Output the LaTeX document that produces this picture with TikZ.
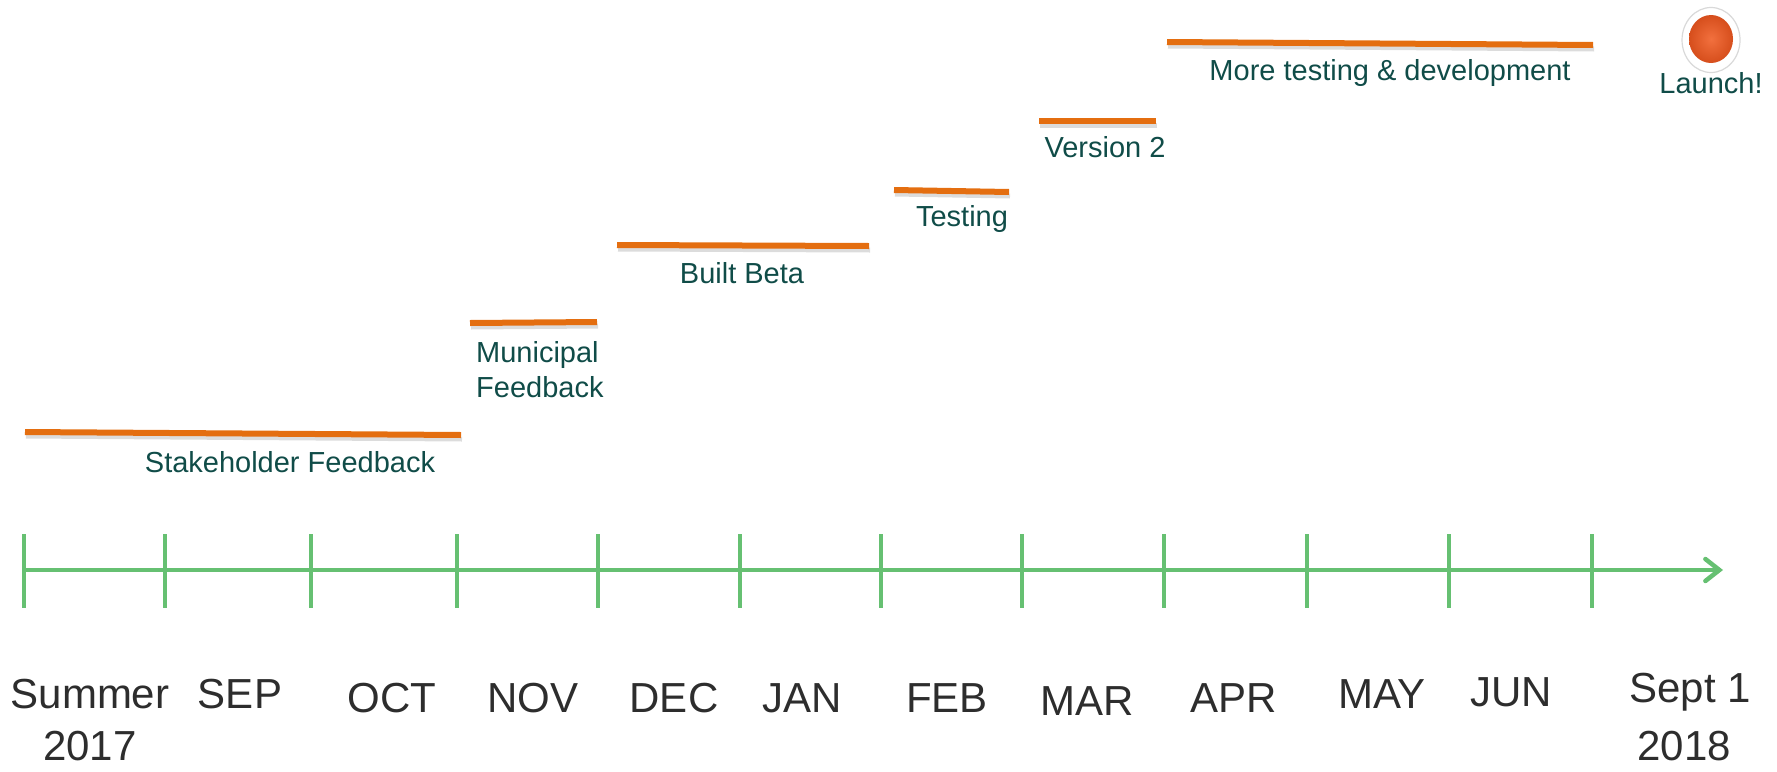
\documentclass[tikz,border=0pt]{standalone}
\usepackage{fontspec}
\setmainfont{Liberation Sans}
\usetikzlibrary{arrows.meta,shapes.geometric}
\definecolor{axisgreen}{RGB}{102,192,114}
\definecolor{barorange}{RGB}{228,110,16}
\definecolor{tasktext}{RGB}{16,76,72}
\definecolor{monthtext}{RGB}{45,45,45}
\definecolor{ballin}{RGB}{242,112,62}
\definecolor{ballout}{RGB}{214,78,28}
\begin{document}
\begin{tikzpicture}[x=1pt,y=-1pt,
  month/.style={font=\fontsize{42}{48}\selectfont, text=monthtext, anchor=base, inner sep=0pt},
  task/.style={font=\fontsize{29}{35}\selectfont, text=tasktext, anchor=base, inner sep=0pt},
  bar/.style={line width=6pt, draw=barorange},
  barshadow/.style={line width=5pt, draw=black!30, opacity=0.45},
  tickline/.style={line width=4.5pt, draw=axisgreen},
]
\useasboundingbox (0,0) rectangle (1777,771);

% axis
\coordinate (axstart) at (24,570);
\coordinate (axend) at (1723,570);
\draw[tickline, -{Straight Barb[length=14pt,width=22pt,line cap=round]}] (axstart) -- (axend);
\foreach \x [count=\i] in {24,165,311,457,598,740,881,1022,1164,1307,1449,1592}{
  \coordinate (t\i top) at (\x,534);
  \coordinate (t\i bot) at (\x,608);
  \draw[tickline] (t\i top) -- (t\i bot);
}

% month labels
\node[month] (summer) at (90,708) {Summer};
\node[month] (y2017) at (90,760) {2017};
\node[month] (sep) at (240,708) {SEP};
\node[month] (oct) at (392,712) {OCT};
\node[month] (nov) at (533,712) {NOV};
\node[month] (dec) at (674,712) {DEC};
\node[month] (jan) at (802,712) {JAN};
\node[month] (feb) at (947,712) {FEB};
\node[month] (mar) at (1087,715) {MAR};
\node[month] (apr) at (1234,712) {APR};
\node[month] (may) at (1382,708) {MAY};
\node[month] (jun) at (1511,706) {JUN};
\node[month] (sept) at (1690,702) {Sept 1};
\node[month] (y2018) at (1684,760) {2018};

% bars
\coordinate (b1a) at (25,432);   \coordinate (b1b) at (461,435);
\coordinate (b2a) at (470,323);  \coordinate (b2b) at (597,322);
\coordinate (b3a) at (617,245);  \coordinate (b3b) at (869,246);
\coordinate (b4a) at (894,190);  \coordinate (b4b) at (1009,192);
\coordinate (b5a) at (1039,121); \coordinate (b5b) at (1156,121);
\coordinate (b6a) at (1167,42);  \coordinate (b6b) at (1593,45);
\foreach \b in {1,...,6}{
  \draw[barshadow] ([shift={(1,4)}]b\b a) -- ([shift={(1,4)}]b\b b);
  \draw[bar] (b\b a) -- (b\b b);
}

% task labels
\node[task] (stake) at (290,472) {Stakeholder Feedback};
\node[task, anchor=base west] (muni1) at (476,362) {Municipal};
\node[task, anchor=base west] (muni2) at (476,397) {Feedback};
\node[task] (beta) at (742,283) {Built Beta};
\node[task] (test) at (962,226) {Testing};
\node[task] (ver2) at (1105,157) {Version 2};
\node[task] (more) at (1390,80) {More testing \& development};

% launch
\node[ellipse, draw=black!15, line width=1.2pt, fill=white, minimum width=58pt, minimum height=65pt, inner sep=0pt] (ring) at (1711,40) {};
\node[ellipse, minimum width=44pt, minimum height=48pt, inner sep=0pt, shade, inner color=ballin, outer color=ballout] (ball) at (1711,39) {};
\node[task] (launch) at (1711,93) {Launch!};
\end{tikzpicture}
\end{document}
